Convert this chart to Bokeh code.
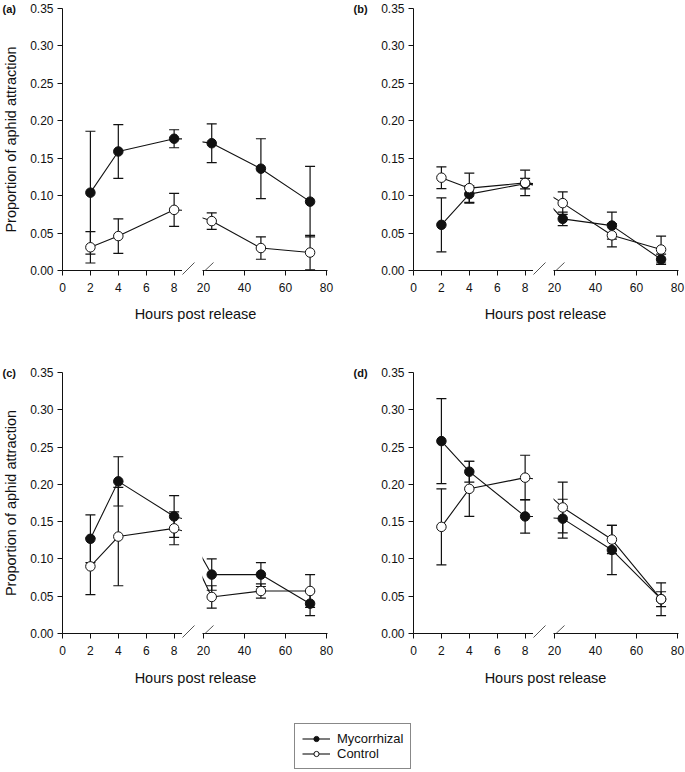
import math
from bokeh.plotting import figure
from bokeh.models import (Range1d, FixedTicker, PrintfTickFormatter, Whisker, TeeHead,
                          ColumnDataSource, Label, Arrow, Legend, LegendItem)
from bokeh.layouts import row, column
from bokeh.embed import file_html
from bokeh.resources import INLINE

# ---------------- data ----------------
hours = [2, 4, 8, 24, 48, 72]
x_ticks_left = [0, 2, 4, 6, 8]
x_ticks_right = [20, 40, 60, 80]
y_ticks = [0.0, 0.05, 0.10, 0.15, 0.20, 0.25, 0.30, 0.35]

a_myc = [0.104, 0.159, 0.176, 0.170, 0.136, 0.092]
a_myc_err = [0.082, 0.036, 0.012, 0.026, 0.040, 0.047]
a_ctl = [0.031, 0.046, 0.081, 0.066, 0.030, 0.024]
a_ctl_err = [0.021, 0.023, 0.022, 0.011, 0.015, 0.023]

b_myc = [0.061, 0.102, 0.116, 0.069, 0.060, 0.015]
b_myc_err = [0.036, 0.011, 0.007, 0.009, 0.018, 0.007]
b_ctl = [0.124, 0.110, 0.117, 0.090, 0.047, 0.028]
b_ctl_err = [0.0145, 0.020, 0.017, 0.015, 0.0155, 0.018]

c_myc = [0.127, 0.204, 0.157, 0.079, 0.079, 0.040]
c_myc_err = [0.032, 0.033, 0.028, 0.021, 0.016, 0.016]
c_ctl = [0.090, 0.130, 0.141, 0.049, 0.057, 0.057]
c_ctl_err = [0.038, 0.066, 0.022, 0.015, 0.0095, 0.022]

d_myc = [0.258, 0.217, 0.157, 0.154, 0.112, 0.046]
d_myc_err = [0.057, 0.014, 0.0225, 0.026, 0.033, 0.010]
d_ctl = [0.143, 0.194, 0.209, 0.169, 0.126, 0.046]
d_ctl_err = [0.051, 0.037, 0.030, 0.034, 0.019, 0.022]

series_names = ["Mycorrhizal", "Control"]
panel_labels = ["(a)", "(b)", "(c)", "(d)"]
x_title = "Hours post release"
y_title = "Proportion of aphid attraction"

# ---------------- style / geometry ----------------
FONT = "Liberation Sans"
INK = "#111111"
SLASH = "#555555"
LEFT_FRAME = 120
RIGHT_FRAME = 125
GAP_W = 13
RIGHT_LB = 7
MARK = 9.5


def bare(width, height, xr, yr):
    p = figure(width=width, height=height, x_range=xr, y_range=yr,
               output_backend="svg", toolbar_location=None, min_border=0,
               x_axis_location=None, y_axis_location=None)
    p.frame_align = False
    p.grid.visible = False
    p.outline_line_color = None
    return p


def style_x(p, ticks):
    ax = p.xaxis[0]
    ax.ticker = FixedTicker(ticks=ticks)
    ax.minor_tick_line_color = None
    ax.major_tick_in = 0
    ax.major_tick_out = 5
    ax.major_label_standoff = 7
    ax.major_label_text_font = FONT
    ax.major_label_text_font_size = "12px"
    ax.major_label_text_color = INK
    ax.axis_line_color = INK
    ax.major_tick_line_color = INK


def seg_fig(x_rng, ticks, frame_w, lb, rb, tb, frame_h, bb, show_y):
    p = figure(width=lb + frame_w + rb, height=tb + frame_h + bb,
               x_range=x_rng, y_range=Range1d(0, 0.35),
               output_backend="svg", toolbar_location=None,
               min_border_left=lb, min_border_right=rb,
               min_border_top=tb, min_border_bottom=bb,
               y_axis_location="left" if show_y else None)
    p.grid.visible = False
    p.outline_line_color = None
    style_x(p, ticks)
    if show_y:
        ya = p.yaxis[0]
        ya.ticker = FixedTicker(ticks=y_ticks)
        ya.formatter = PrintfTickFormatter(format="%.2f")
        ya.minor_tick_line_color = None
        ya.major_tick_in = 0
        ya.major_tick_out = 5
        ya.major_label_standoff = 4
        ya.major_label_text_font = FONT
        ya.major_label_text_font_size = "12px"
        ya.major_label_text_color = INK
        ya.axis_line_color = INK
        ya.major_tick_line_color = INK
    return p


def draw(p, y, err):
    src = ColumnDataSource(dict(hours=hours, y=y,
                                upper=[v + e for v, e in zip(y, err)],
                                lower=[max(v - e, 0.0) for v, e in zip(y, err)]))
    p.add_layout(Whisker(source=src, base="hours", upper="upper", lower="lower",
                         level="underlay", line_color=INK, line_width=1.2,
                         upper_head=TeeHead(size=10, line_color=INK, line_width=1.2),
                         lower_head=TeeHead(size=10, line_color=INK, line_width=1.2)))
    p.line("hours", "y", source=src, line_color=INK, line_width=1.1)
    return src


def panel(label, myc, myc_err, ctl, ctl_err, gutter_w, left_lb, right_rb,
          tb, frame_h, bb, with_ytitle, title_h, title_x, title_y):
    H = tb + frame_h + bb
    # gutter with panel letter (and y-axis title)
    g = bare(gutter_w, H, Range1d(0, gutter_w), Range1d(0, H))
    g.add_layout(Label(x=2, y=H - tb, text=label,
                       text_font=FONT, text_font_size="11px", text_font_style="bold",
                       text_baseline="middle", text_color=INK))
    if with_ytitle:
        g.add_layout(Label(x=10, y=bb + frame_h / 2.0,
                           text=y_title, angle=math.pi / 2, text_font=FONT,
                           text_font_size="14.5px", text_align="center",
                           text_baseline="middle", text_color=INK))
    left = seg_fig(Range1d(0, 8.6), x_ticks_left, LEFT_FRAME, left_lb, 0, tb, frame_h, bb, True)
    right = seg_fig(Range1d(19.5, 80.5), x_ticks_right, RIGHT_FRAME, RIGHT_LB, right_rb, tb, frame_h, bb, False)
    for p in (left, right):
        s1 = draw(p, myc, myc_err)
        s2 = draw(p, ctl, ctl_err)
        p.scatter("hours", "y", source=s1, size=MARK, fill_color=INK, line_color=INK, line_width=1)
        p.scatter("hours", "y", source=s2, size=MARK, fill_color="white", line_color=INK, line_width=1)
    # axis-break marks: one in the gap, one reaching into the right segment
    gap = bare(GAP_W, H, Range1d(0, GAP_W), Range1d(0, H))
    gap.segment(x0=[-5], y0=[bb - 9], x1=[12], y1=[bb + 8], line_color=SLASH, line_width=1)
    right.add_layout(Arrow(x_start=-7, y_start=-9, x_end=11, y_end=8,
                           start_units="screen", end_units="screen", end=None,
                           line_color=SLASH, line_width=1))
    # x-axis title spanning both segments
    tw = g.width + left.width + gap.width + right.width
    t = bare(tw, title_h, Range1d(0, tw), Range1d(0, title_h))
    t.add_layout(Label(x=title_x, y=title_y, text=x_title,
                       text_font=FONT, text_font_size="14.5px", text_align="center",
                       text_baseline="middle", text_color=INK))
    return row(g, left, gap, right), t


a_row, a_t = panel(panel_labels[0], a_myc, a_myc_err, a_ctl, a_ctl_err, 26, 36, 24,
                   8, 262, 30, True, 26, 195, 13)
b_row, b_t = panel(panel_labels[1], b_myc, b_myc_err, b_ctl, b_ctl_err, 18, 44, 7,
                   8, 262, 30, False, 26, 194, 13)
c_row, c_t = panel(panel_labels[2], c_myc, c_myc_err, c_ctl, c_ctl_err, 26, 36, 24,
                   46, 261, 30, True, 27, 195, 13)
d_row, d_t = panel(panel_labels[3], d_myc, d_myc_err, d_ctl, d_ctl_err, 18, 44, 7,
                   46, 261, 30, False, 27, 194, 13)

# legend figure
lg = bare(685, 81, Range1d(0, 1), Range1d(0, 1))
l1 = lg.line(x=[-2, -1], y=[-2, -1], line_color=INK, line_width=1.1)
m1 = lg.scatter(x=[-2], y=[-2], size=MARK, fill_color=INK, line_color=INK)
l2 = lg.line(x=[-2, -1], y=[-2, -1], line_color=INK, line_width=1.1)
m2 = lg.scatter(x=[-2], y=[-2], size=MARK, fill_color="white", line_color=INK)
legend = Legend(items=[LegendItem(label=series_names[0], renderers=[l1, m1]),
                       LegendItem(label=series_names[1], renderers=[l2, m2])],
                location=(294, 2), margin=0, padding=7, spacing=0,
                glyph_width=28, glyph_height=13, label_height=13, label_standoff=7,
                label_text_font=FONT, label_text_font_size="13px", label_text_color=INK,
                border_line_color=INK, border_line_width=1, background_fill_color="white")
lg.add_layout(legend)

layout = column(row(a_row, b_row), row(a_t, b_t), row(c_row, d_row), row(c_t, d_t), lg)

with open("out.html", "w") as f:
    f.write(file_html(layout, INLINE))
